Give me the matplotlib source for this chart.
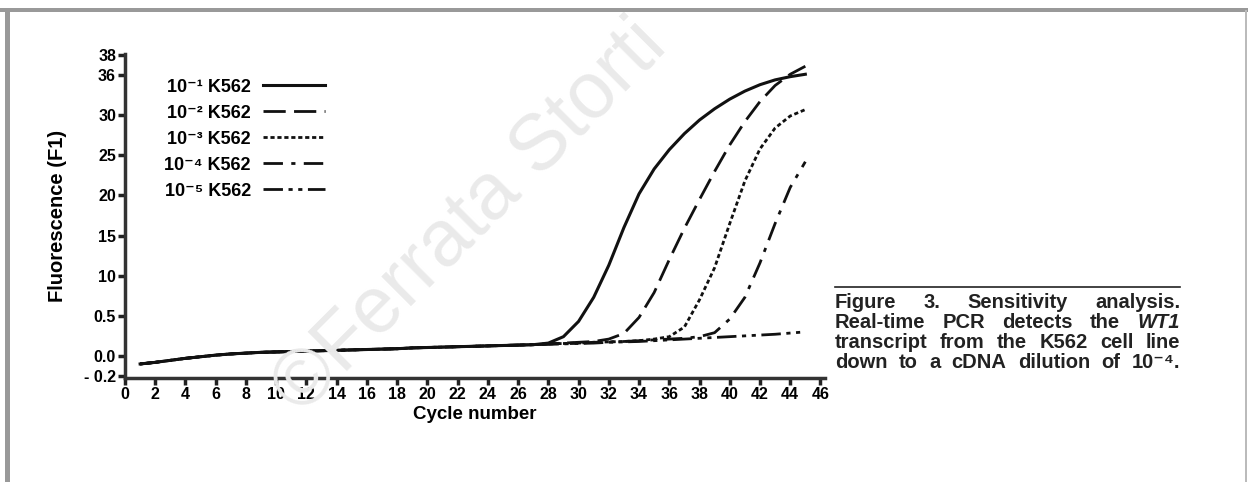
import matplotlib.pyplot as plt
from matplotlib.lines import Line2D
from matplotlib.patches import Rectangle

plt.rcParams['font.family'] = ['Liberation Sans', 'DejaVu Sans']
plt.rcParams['font.weight'] = 'bold'

# Cycle numbers and fluorescence readings (axis units)
cycles = list(range(1, 46))
k562_1 = [-1.0, -0.8, -0.55, -0.3, -0.1, 0.1, 0.25, 0.35, 0.45, 0.5, 0.55, 0.6, 0.65, 0.7, 0.75,
          0.8, 0.85, 0.9, 1.0, 1.05, 1.1, 1.15, 1.2, 1.25, 1.3, 1.35, 1.4, 1.6, 2.4, 4.3,
          7.3, 11.3, 16.0, 20.2, 23.3, 25.7, 27.7, 29.4, 30.8, 32.0, 33.0, 33.8, 34.4, 34.8, 35.1]
k562_2 = [-1.0, -0.8, -0.55, -0.3, -0.1, 0.1, 0.25, 0.35, 0.45, 0.5, 0.55, 0.6, 0.65, 0.7, 0.75,
          0.8, 0.85, 0.9, 1.0, 1.05, 1.1, 1.15, 1.2, 1.25, 1.3, 1.35, 1.4, 1.5, 1.6, 1.7,
          1.8, 2.1, 2.8, 4.8, 7.9, 12.0, 15.9, 19.5, 23.0, 26.3, 29.2, 31.7, 33.7, 35.1, 36.1]
k562_3 = [-1.0, -0.8, -0.55, -0.3, -0.1, 0.1, 0.25, 0.35, 0.45, 0.5, 0.55, 0.6, 0.65, 0.7, 0.75,
          0.8, 0.85, 0.9, 1.0, 1.05, 1.1, 1.15, 1.2, 1.25, 1.3, 1.35, 1.4, 1.5, 1.55, 1.6,
          1.7, 1.75, 1.8, 1.9, 2.1, 2.4, 3.6, 7.0, 11.0, 16.5, 21.8, 25.8, 28.4, 29.9, 30.7]
k562_4 = [-1.0, -0.8, -0.55, -0.3, -0.1, 0.1, 0.25, 0.35, 0.45, 0.5, 0.55, 0.6, 0.65, 0.7, 0.75,
          0.8, 0.85, 0.9, 1.0, 1.05, 1.1, 1.15, 1.2, 1.25, 1.3, 1.35, 1.4, 1.5, 1.55, 1.6,
          1.7, 1.75, 1.8, 1.9, 2.0, 2.1, 2.2, 2.4, 2.9, 4.6, 7.3, 11.6, 16.5, 21.0, 24.2]
k562_5 = [-1.0, -0.8, -0.55, -0.3, -0.1, 0.1, 0.25, 0.35, 0.45, 0.5, 0.55, 0.6, 0.65, 0.7, 0.75,
          0.8, 0.85, 0.9, 1.0, 1.05, 1.1, 1.15, 1.2, 1.25, 1.3, 1.35, 1.4, 1.45, 1.5, 1.55,
          1.6, 1.7, 1.75, 1.8, 1.9, 2.0, 2.1, 2.2, 2.3, 2.4, 2.5, 2.6, 2.7, 2.85, 3.0]

series_labels = ['10⁻¹ K562', '10⁻² K562', '10⁻³ K562', '10⁻⁴ K562', '10⁻⁵ K562']
y_tick_pos = [-2.5, 0, 5, 10, 15, 20, 25, 30, 35, 37.5]
y_tick_labels = ['- 0.2', '0.0', '0.5', '10', '15', '20', '25', '30', '36', '38']
x_ticks = list(range(0, 47, 2))

caption_lines = [
    ['Figure', '3.', 'Sensitivity', 'analysis.'],
    ['Real-time', 'PCR', 'detects', 'the', 'WT1'],
    ['transcript', 'from', 'the', 'K562', 'cell', 'line'],
    ['down', 'to', 'a', 'cDNA', 'dilution', 'of', '10⁻⁴.'],
]

W, H = 1248, 482
fig = plt.figure(figsize=(W / 100, H / 100), dpi=100)

# page frame
fig.add_artist(Rectangle((0, 1 - 12 / H), 1, 4 / H, transform=fig.transFigure, color='#999999', lw=0))
fig.add_artist(Rectangle((5 / W, 0), 5 / W, 1 - 10 / H, transform=fig.transFigure, color='#999999', lw=0))
fig.add_artist(Rectangle((1245 / W, 0), 1.5 / W, 1 - 10 / H, transform=fig.transFigure, color='#bbbbbb', lw=0))

# watermark
fig.text(471 / W, 1 - 218 / H, '©Ferrata Storti', fontsize=57, color='#eaeaea',
         rotation=45, ha='center', va='center', fontweight='normal', zorder=0)

ax = fig.add_axes([125 / W, 1 - 377.6 / H, 700 / W, (377.6 - 54.2) / H])
ax.patch.set_alpha(0)

styles = ['-', (0, (8, 3)), (0, (1.5, 1)), (0, (7, 3, 1.5, 3)), (0, (7, 2, 1.5, 2, 1.5, 2))]
widths = [2.2, 2.0, 2.0, 2.0, 2.0]
for vals, lab, ls, lw in zip([k562_1, k562_2, k562_3, k562_4, k562_5], series_labels, styles, widths):
    ax.plot(cycles, vals, color='#111111', linestyle=ls, linewidth=lw, label=lab)

ax.set_xlim(0, 46.3)
ax.set_ylim(-2.7, 37.6)
ax.set_xticks(x_ticks)
ax.set_yticks(y_tick_pos)
ax.set_yticklabels(y_tick_labels)
ax.tick_params(axis='both', direction='out', length=5, width=2.5, labelsize=11.5, pad=1.5, color='#222222')
for s in ['top', 'right']:
    ax.spines[s].set_visible(False)
for s in ['left', 'bottom']:
    ax.spines[s].set_linewidth(2.5)
    ax.spines[s].set_color('#333333')

ax.set_xlabel('Cycle number', fontsize=13.5, fontweight='bold', labelpad=3)
ax.set_ylabel('Fluorescence (F1)', fontsize=14.5, fontweight='bold', labelpad=12)

ax.legend(loc='upper left', bbox_to_anchor=(0.033, 0.975), frameon=False, markerfirst=False,
          handlelength=3.4, handletextpad=0.7, labelspacing=0.5,
          prop={'weight': 'bold', 'size': 13})

# caption rule and justified caption text
fig.add_artist(Line2D([835 / W, 1180 / W], [1 - 287 / H, 1 - 287 / H], transform=fig.transFigure,
                      color='#222222', lw=1.2))
fig.canvas.draw()
renderer = fig.canvas.get_renderer()
left, right = 835, 1180
for i, words in enumerate(caption_lines):
    y = 1 - (308 + 20 * i) / H
    texts = []
    for w in words:
        t = fig.text(0, y, w, fontsize=14.5, fontweight='bold', color='#222222',
                     style='italic' if w == 'WT1' else 'normal', va='baseline', ha='left')
        texts.append(t)
    widths_px = [t.get_window_extent(renderer).width for t in texts]
    gap = (right - left - sum(widths_px)) / (len(words) - 1)
    x = left
    for t, wpx in zip(texts, widths_px):
        t.set_x(x / W)
        x += wpx + gap

fig.savefig('out.png', dpi=100)
